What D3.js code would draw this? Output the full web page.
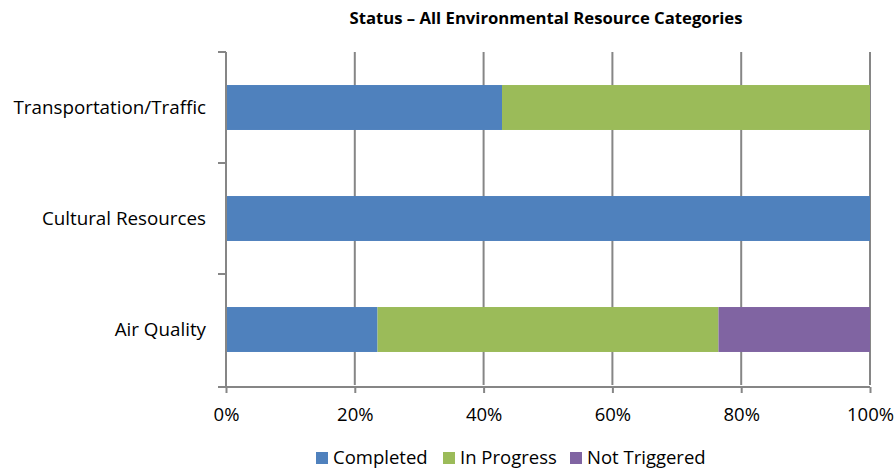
<!DOCTYPE html>
<html>
<head>
<meta charset="utf-8">
<script src="https://cdn.jsdelivr.net/npm/d3@7"></script>
<style>
  body { margin: 0; background: #fff; overflow: hidden; }
  svg { display: block; }
  text { font-family: "Open Sans", sans-serif; fill: #000; }
</style>
</head>
<body>
<div id="chart"></div>
<script>
// categories from top to bottom
const categories = ['Transportation/Traffic', 'Cultural Resources', 'Air Quality']
const seriesNames = ['Completed', 'In Progress', 'Not Triggered']
const completed = [3, 5, 4]
const inProgress = [4, 0, 9]
const notTriggered = [0, 0, 4]
const xTicks = [0, 0.2, 0.4, 0.6, 0.8, 1]
const colors = ['#4f81bd', '#9bbb59', '#8064a2']

const width = 895
const height = 471
const margin = { top: 52, right: 25, bottom: 86, left: 226 }
const innerWidth = width - margin.left - margin.right
const innerHeight = height - margin.top - margin.bottom

// build percentage rows
const rows = categories.map((c, i) => {
    let total = completed[i] + inProgress[i] + notTriggered[i]
    return {
        category: c,
        'Completed': completed[i] / total,
        'In Progress': inProgress[i] / total,
        'Not Triggered': notTriggered[i] / total
    }
})
const stacked = d3.stack().keys(seriesNames)(rows)

const svg = d3.select('#chart')
    .append('svg')
    .attr('width', width)
    .attr('height', height)

svg.append('text')
    .attr('x', 546)
    .attr('y', 24)
    .attr('text-anchor', 'middle')
    .style('font-size', '16.7px')
    .style('font-weight', 'bold')
    .text('Status \u2013 All Environmental Resource Categories')

const chart = svg.append('g')
    .attr('transform', `translate(${margin.left},${margin.top})`)

const xScale = d3.scaleLinear().domain([0, 1]).range([0, innerWidth])
const yScale = d3.scaleBand()
    .domain(categories)
    .range([0, innerHeight])
    .paddingInner(0.595)
    .paddingOuter(0.2975)

// vertical gridlines
chart.selectAll('.grid')
    .data(xTicks)
    .enter()
    .append('line')
    .attr('class', 'grid')
    .attr('x1', d => xScale(d))
    .attr('x2', d => xScale(d))
    .attr('y1', 0)
    .attr('y2', innerHeight)
    .attr('stroke', '#868686')
    .attr('stroke-width', 2)

// bars
chart.selectAll('.series')
    .data(stacked)
    .enter()
    .append('g')
    .attr('fill', (d, i) => colors[i])
    .selectAll('rect')
    .data(d => d)
    .enter()
    .append('rect')
    .attr('x', d => xScale(d[0]))
    .attr('y', d => yScale(d.data.category))
    .attr('width', d => xScale(d[1]) - xScale(d[0]))
    .attr('height', yScale.bandwidth())

// x axis
const xAxis = d3.axisBottom(xScale)
    .tickValues(xTicks)
    .tickFormat(d3.format('.0%'))
    .tickSize(6)
    .tickPadding(15)
const gx = chart.append('g')
    .attr('transform', `translate(0,${innerHeight + 2})`)
    .call(xAxis)
gx.select('.domain').attr('stroke', '#868686').attr('stroke-width', 2)
    .attr('d', `M-8,0H${innerWidth}`)
gx.selectAll('.tick line').attr('stroke', '#868686').attr('stroke-width', 2)
gx.selectAll('.tick text').style('font-size', '18.5px').style('font-family', '"Open Sans", sans-serif')

// y axis line with ticks between categories
chart.append('line')
    .attr('x1', 0).attr('x2', 0)
    .attr('y1', 0).attr('y2', innerHeight + 2)
    .attr('stroke', '#868686')
    .attr('stroke-width', 2)
const step = yScale.step()
chart.selectAll('.ytick')
    .data(d3.range(categories.length))
    .enter()
    .append('line')
    .attr('x1', -8).attr('x2', 0)
    .attr('y1', i => i * step)
    .attr('y2', i => i * step)
    .attr('stroke', '#868686')
    .attr('stroke-width', 2)

chart.selectAll('.ylabel')
    .data(categories)
    .enter()
    .append('text')
    .attr('x', -20)
    .attr('y', d => yScale(d) + yScale.bandwidth() / 2)
    .attr('dy', '0.35em')
    .attr('text-anchor', 'end')
    .style('font-size', '18.8px')
    .text(d => d)

// legend
const legendX = [316, 443, 570]
const legend = svg.selectAll('.legend')
    .data(seriesNames)
    .enter()
    .append('g')
    .attr('transform', (d, i) => `translate(${legendX[i]}, 458)`)
legend.append('rect')
    .attr('x', 0).attr('y', -6)
    .attr('width', 12).attr('height', 12)
    .attr('fill', (d, i) => colors[i])
legend.append('text')
    .attr('x', 17)
    .attr('dy', '0.35em')
    .style('font-size', '18.5px')
    .text(d => d)
</script>
</body>
</html>
